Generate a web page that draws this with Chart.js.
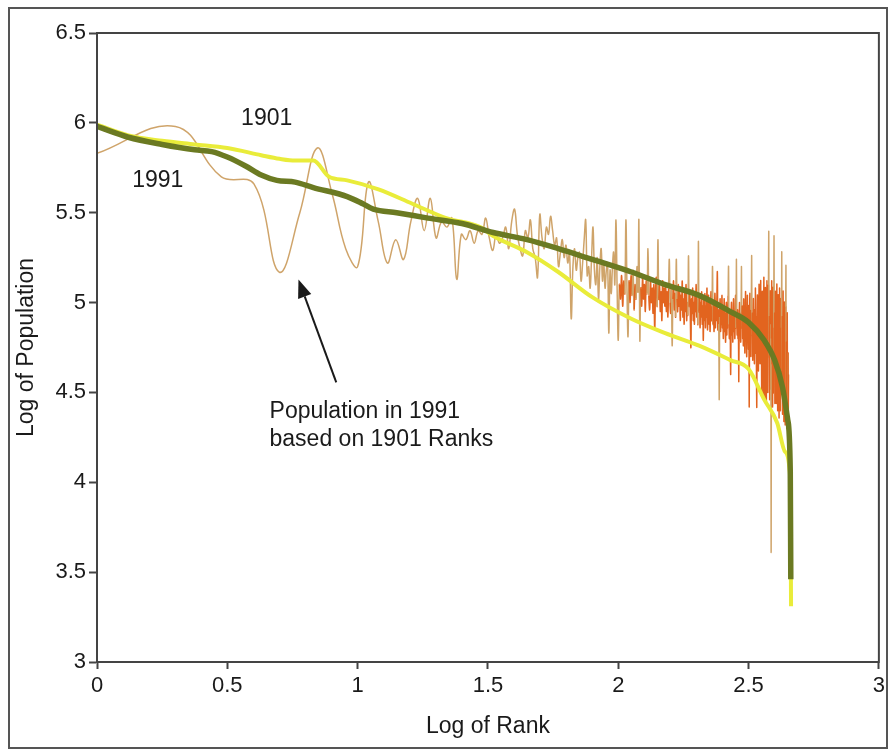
<!DOCTYPE html>
<html>
<head>
<meta charset="utf-8">
<script src="https://cdn.jsdelivr.net/npm/chart.js@4.4.1/dist/chart.umd.min.js"></script>
<style>
  html, body { margin: 0; padding: 0; background: #fff; }
  canvas { display: block; }
</style>
</head>
<body>
<canvas id="grafico" width="889" height="749"></canvas>
<script>
// ticks
const xTicks = [0, 0.5, 1, 1.5, 2, 2.5, 3];
const yTicks = [3, 3.5, 4, 4.5, 5, 5.5, 6, 6.5];

// 1991 rank-size curve (log rank, log population)
const x1991 = [0, 0.12, 0.25, 0.375, 0.44, 0.50, 0.57, 0.63, 0.69, 0.76, 0.83, 0.96, 1.02, 1.06, 1.15, 1.27, 1.40, 1.52, 1.65, 1.77, 1.90, 2.05, 2.18, 2.31, 2.43, 2.50, 2.56, 2.60, 2.63, 2.65, 2.66, 2.662];
const y1991 = [5.98, 5.92, 5.88, 5.85, 5.84, 5.81, 5.76, 5.71, 5.68, 5.67, 5.64, 5.59, 5.55, 5.52, 5.50, 5.47, 5.44, 5.39, 5.35, 5.30, 5.24, 5.17, 5.10, 5.04, 4.95, 4.89, 4.79, 4.68, 4.53, 4.35, 4.06, 3.46];

// 1901 rank-size curve
const x1901 = [0, 0.12, 0.25, 0.375, 0.50, 0.63, 0.70, 0.76, 0.83, 0.89, 0.96, 1.08, 1.21, 1.34, 1.47, 1.52, 1.65, 1.77, 1.90, 2.05, 2.18, 2.31, 2.43, 2.50, 2.56, 2.61, 2.64, 2.66, 2.663];
const y1901 = [5.99, 5.93, 5.90, 5.88, 5.86, 5.82, 5.80, 5.79, 5.79, 5.70, 5.68, 5.63, 5.55, 5.47, 5.42, 5.37, 5.28, 5.17, 5.03, 4.91, 4.83, 4.76, 4.68, 4.63, 4.46, 4.33, 4.17, 4.02, 3.31];

// populacao de 1991 na ordem dos ranks de 1901 (rank 1..450)
const pop1991by1901 = [
  5.83, 5.98, 5.70, 5.66, 5.17, 5.50, 5.86, 5.60, 5.30, 5.20,
  5.67, 5.45, 5.22, 5.35, 5.24, 5.45, 5.58, 5.40, 5.58, 5.36,
  5.45, 5.42, 5.47, 5.13, 5.38, 5.35, 5.40, 5.33, 5.40, 5.38,
  5.47, 5.36, 5.29, 5.38, 5.33, 5.36, 5.42, 5.30, 5.45, 5.52,
  5.38, 5.30, 5.26, 5.40, 5.36, 5.46, 5.30, 5.25, 5.14, 5.49,
  5.36, 5.30, 5.42, 5.38, 5.48, 5.40, 5.32, 5.36, 5.20, 5.28,
  5.35, 5.25, 5.32, 5.22, 5.28, 4.91, 5.20, 5.30, 5.18, 5.25,
  5.28, 5.12, 5.22, 5.35, 5.46, 5.15, 5.20, 5.08, 5.25, 5.42,
  5.18, 5.10, 5.25, 5.02, 5.20, 5.30, 5.12, 5.22, 5.08, 5.18,
  5.22, 4.83, 5.18, 5.05, 5.20, 5.28, 5.10, 5.46, 5.08, 4.79,
  5.10, 5.02, 5.15, 4.98, 5.12, 5.05, 5.46, 5.08, 4.81, 5.12,
  5.00, 5.15, 5.04, 5.18, 4.96, 5.10, 5.02, 5.20, 5.06, 5.46,
  4.79, 5.08, 4.98, 5.14, 5.02, 5.10, 4.95, 5.12, 5.05, 5.30,
  5.04, 4.96, 5.12, 5.00, 5.08, 4.94, 5.10, 4.85, 5.06, 5.14,
  4.98, 5.35, 5.02, 5.10, 4.95, 5.06, 4.90, 5.12, 5.00, 5.08,
  4.98, 5.10, 4.95, 5.06, 4.92, 5.08, 5.24, 5.00, 4.94, 5.08,
  4.76, 5.02, 5.12, 4.96, 5.05, 4.92, 5.24, 5.02, 4.95, 5.10,
  4.98, 5.06, 4.90, 5.04, 4.96, 5.12, 4.92, 5.02, 4.88, 5.06,
  4.95, 5.10, 4.90, 5.00, 4.93, 5.26, 4.98, 5.06, 4.92, 4.75,
  5.02, 4.94, 5.08, 4.90, 5.00, 4.88, 5.05, 4.95, 5.10, 4.92,
  5.02, 4.88, 5.34, 4.95, 5.04, 4.86, 5.00, 4.92, 5.06, 4.88,
  4.98, 4.79, 5.02, 4.90, 5.05, 4.86, 4.98, 4.92, 5.08, 4.85,
  4.96, 5.04, 4.88, 5.00, 4.84, 4.96, 5.06, 4.90, 4.98, 5.20,
  4.88, 5.00, 4.84, 4.95, 5.05, 4.86, 4.98, 4.90, 5.02, 5.17,
  4.85, 4.96, 4.88, 4.46, 4.92, 5.02, 4.84, 4.95, 4.88, 5.04,
  4.86, 4.96, 4.80, 4.92, 5.02, 4.84, 4.94, 4.78, 4.90, 5.00,
  4.82, 4.95, 4.86, 5.04, 5.20, 4.88, 4.80, 4.96, 4.84, 4.60,
  4.90, 5.00, 4.82, 4.94, 4.78, 4.92, 5.02, 4.84, 4.95, 4.80,
  4.90, 5.04, 4.86, 5.24, 4.92, 4.82, 4.96, 4.80, 4.90, 4.56,
  4.88, 5.00, 4.82, 4.94, 4.78, 4.92, 5.20, 4.86, 4.98, 4.80,
  4.92, 4.76, 5.02, 4.84, 4.96, 4.72, 4.90, 5.06, 4.80, 4.94,
  4.70, 4.88, 5.04, 4.78, 4.92, 4.74, 4.98, 4.42, 4.86, 5.05,
  4.76, 4.92, 4.70, 4.96, 5.26, 4.82, 4.94, 4.68, 4.88, 5.02,
  4.74, 4.90, 4.66, 4.96, 4.80, 5.08, 4.72, 4.92, 4.64, 4.42,
  4.86, 5.04, 4.70, 4.94, 4.62, 4.88, 5.10, 4.74, 4.96, 4.66,
  4.90, 5.12, 4.70, 4.94, 4.50, 4.86, 5.06, 4.66, 4.92, 4.48,
  4.84, 5.14, 4.72, 4.96, 4.46, 4.88, 5.08, 4.64, 4.90, 4.44,
  4.82, 5.12, 4.68, 4.94, 4.50, 4.86, 5.10, 5.39, 4.70, 4.92,
  4.46, 4.84, 5.06, 4.52, 4.88, 3.61, 4.80, 5.12, 4.66, 4.90,
  4.42, 4.82, 5.08, 4.50, 4.86, 5.37, 4.68, 4.94, 4.44, 4.80,
  5.06, 4.60, 4.90, 4.44, 4.78, 5.10, 4.58, 4.86, 4.40, 4.74,
  5.04, 4.52, 4.88, 4.36, 4.70, 5.08, 4.56, 4.84, 4.40, 4.72,
  5.02, 4.50, 4.86, 5.28, 4.62, 4.92, 4.38, 4.76, 5.06, 4.48,
  4.82, 4.34, 4.70, 5.00, 4.46, 4.80, 4.32, 4.66, 4.98, 5.20,
  4.44, 4.78, 4.30, 4.62, 4.94, 4.40, 4.24, 4.72, 4.36, 4.60
];

const FONTE = "'Liberation Sans', Arial, sans-serif";
const TEXTO = "#1a1a1a";
const TAN = "#cfa46a";
const LARANJA = "#e2641f";

const pontos = (xs, ys) => xs.map((x, i) => ({ x: x, y: ys[i] }));
// eixo x e o log do rank
const pontosRank = pop1991by1901.map((v, i) => ({ x: Math.log10(i + 1), y: v }));

// cor dos segmentos: nucleo denso laranja, picos em tan
function corSegmento(ctx) {
  const x0 = ctx.p0.parsed.x;
  const a = ctx.p0.parsed.y, b = ctx.p1.parsed.y;
  const lo = Math.min(a, b), hi = Math.max(a, b);
  const limiteBaixo = x0 < 2.25 ? 4.84 : (x0 < 2.5 ? 4.5 : 4.3);
  if (x0 >= 1.85 && hi <= 5.17 && lo >= limiteBaixo) return LARANJA;
  return TAN;
}

// moldura, caixa do grafico e anotacoes
const anotacoes = {
  id: "anotacoes",
  afterDatasetsDraw(chart) {
    const { ctx, chartArea: a, scales } = chart;
    const px = v => scales.x.getPixelForValue(v);
    const py = v => scales.y.getPixelForValue(v);
    ctx.save();
    ctx.strokeStyle = "#444";
    ctx.lineWidth = 2;
    ctx.strokeRect(a.left, a.top, a.right - a.left, a.bottom - a.top);

    ctx.fillStyle = TEXTO;
    ctx.font = "23px " + FONTE;
    ctx.textAlign = "center";
    ctx.textBaseline = "middle";
    ctx.fillText("1901", px(0.651), py(6.022));
    ctx.fillText("1991", px(0.233), py(5.678));
    ctx.textAlign = "left";
    ctx.fillText("Population in 1991", px(0.662), py(4.394));
    ctx.fillText("based on 1901 Ranks", px(0.662), py(4.239));

    // seta
    const tx = px(0.773), ty = py(5.128);
    const sx = px(0.918), sy = py(4.556);
    const ang = Math.atan2(ty - sy, tx - sx);
    const len = 18, meia = 7;
    const bx = tx - len * Math.cos(ang), by = ty - len * Math.sin(ang);
    ctx.strokeStyle = TEXTO;
    ctx.lineWidth = 2;
    ctx.beginPath();
    ctx.moveTo(sx, sy);
    ctx.lineTo(bx, by);
    ctx.stroke();
    ctx.beginPath();
    ctx.moveTo(tx, ty);
    ctx.lineTo(bx + meia * Math.sin(ang), by - meia * Math.cos(ang));
    ctx.lineTo(bx - meia * Math.sin(ang), by + meia * Math.cos(ang));
    ctx.closePath();
    ctx.fill();
    ctx.restore();
  },
  afterDraw(chart) {
    const { ctx } = chart;
    ctx.save();
    ctx.strokeStyle = "#555";
    ctx.lineWidth = 2;
    ctx.strokeRect(9, 8, 878, 740);
    ctx.restore();
  }
};

new Chart(document.getElementById("grafico"), {
  type: "line",
  data: {
    datasets: [
      {
        label: "1991",
        data: pontos(x1991, y1991),
        borderColor: "#6b7a22",
        borderWidth: 5.5,
        pointRadius: 0,
        cubicInterpolationMode: "monotone"
      },
      {
        label: "1901",
        data: pontos(x1901, y1901),
        borderColor: "#e9ec3a",
        borderWidth: 4,
        pointRadius: 0,
        cubicInterpolationMode: "monotone"
      },
      {
        label: "Population in 1991 based on 1901 Ranks",
        data: pontosRank,
        borderColor: TAN,
        borderWidth: 1.5,
        pointRadius: 0,
        tension: 0.4,
        segment: { borderColor: corSegmento }
      }
    ]
  },
  options: {
    responsive: false,
    animation: false,
    layout: { padding: { left: 0, top: 33, right: 8, bottom: 0 } },
    plugins: { legend: { display: false }, tooltip: { enabled: false } },
    scales: {
      x: {
        type: "linear",
        min: 0,
        max: 3,
        afterBuildTicks: s => { s.ticks = xTicks.map(v => ({ value: v })); },
        afterFit: s => { s.height = 87; },
        grid: { drawOnChartArea: false, drawTicks: true, tickLength: 7, tickColor: "#444", tickWidth: 2 },
        border: { display: true, color: "#444", width: 2 },
        ticks: { color: TEXTO, font: { family: FONTE, size: 22 }, padding: 4, maxRotation: 0, callback: v => String(v) },
        title: { display: true, text: "Log of Rank", color: TEXTO, font: { family: FONTE, size: 23 }, padding: { top: 0, bottom: 9 } }
      },
      y: {
        type: "linear",
        min: 3,
        max: 6.5,
        afterBuildTicks: s => { s.ticks = yTicks.map(v => ({ value: v })); },
        afterFit: s => { s.width = 97; },
        grid: { drawOnChartArea: false, drawTicks: true, tickLength: 8, tickColor: "#444", tickWidth: 2 },
        border: { display: true, color: "#444", width: 2 },
        ticks: { color: TEXTO, font: { family: FONTE, size: 22 }, padding: 3, callback: v => String(v) },
        title: { display: true, text: "Log of Population", color: TEXTO, font: { family: FONTE, size: 23 }, padding: { top: 13, bottom: 0 } }
      }
    }
  },
  plugins: [anotacoes]
});
</script>
</body>
</html>
